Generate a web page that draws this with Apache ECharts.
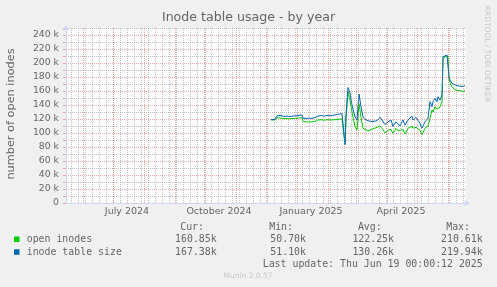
<!DOCTYPE html>
<html><head><meta charset="utf-8">
<style>html,body{margin:0;padding:0;background:#F0F0F0}#c{width:497px;height:287px}</style>
<script src="https://cdn.jsdelivr.net/npm/echarts@6/dist/echarts.min.js"></script>
</head><body><div id="c"></div>
<script>
// ---- data (values in thousands) ----
const dates = ['2024-12-06','2024-12-08','2024-12-10','2024-12-12','2024-12-14','2024-12-16','2024-12-19','2024-12-22','2024-12-25','2024-12-28','2024-12-31',
 '2025-01-03','2025-01-06','2025-01-07','2025-01-10','2025-01-13','2025-01-16','2025-01-19','2025-01-22','2025-01-25','2025-01-28','2025-01-31',
 '2025-02-03','2025-02-06','2025-02-09','2025-02-12','2025-02-15','2025-02-17','2025-02-18','2025-02-19','2025-02-21','2025-02-23','2025-02-25','2025-02-26','2025-02-28',
 '2025-03-02','2025-03-04','2025-03-06','2025-03-08','2025-03-10','2025-03-13','2025-03-16','2025-03-19','2025-03-22','2025-03-25','2025-03-27','2025-03-30','2025-03-31',
 '2025-04-02','2025-04-05','2025-04-07','2025-04-10','2025-04-12','2025-04-14','2025-04-17','2025-04-19','2025-04-22','2025-04-24','2025-04-26','2025-04-27','2025-04-30',
 '2025-05-02','2025-05-04','2025-05-06','2025-05-07','2025-05-09','2025-05-12','2025-05-14','2025-05-16','2025-05-17','2025-05-19','2025-05-21','2025-05-22','2025-05-24','2025-05-26','2025-05-27','2025-05-29','2025-05-31',
 '2025-06-01','2025-06-02','2025-06-03','2025-06-05','2025-06-08','2025-06-10','2025-06-12','2025-06-14','2025-06-16','2025-06-18'];
const openInodes = [118.5,118.5,118.8,121.9,121,121.3,120.4,120.6,120.3,120.8,121,
 121.5,121.8,116.5,116,115.6,116,116.8,118.6,119,118.2,119,
 118.6,118.8,119.2,119.6,120,120.2,85,119,159,147,130,128,109,
 104,142,123,106.7,104,102.8,105,106.5,108,110,106.7,100,98.6,
 104,105,99.5,106.7,103,100.5,105,98.6,106.7,108,110,107,108,
 106,104,97.5,98.5,106.7,110,121,133,130,137.6,134,135,137,145,205,209,208,
 209.5,175.7,172,166,161.4,159,160.5,158.5,159.5,160.9];
const tableSize = [119,119,119.5,124.7,124,125,123.6,124.2,123.5,124.3,124.6,
 125.2,125.7,121,120.8,121.2,120.9,122,124.2,125,124,125.2,
 124.5,125.3,126.2,127,127.8,128,83,126,165,157,140,142.4,123,
 118.6,155.7,137.6,123,119.5,117.6,116.5,116.7,117.6,122.4,118.6,112,110,
 116,118.6,109.5,116,113,110,118.6,111.4,118.6,120,124,118.6,122.4,
 118,113.8,107,108.5,116,121,144.7,137.6,144.7,149.5,144.7,151.9,147,154.5,209,211,211.4,
 213,180,175.7,171,168.6,166,167,166,166.5,167.4];
const seriesNames = ['open inodes', 'inode table size'];
const curValues = ['160.85k', '167.38k'];
const minValues = ['50.70k', '51.10k'];
const avgValues = ['122.25k', '130.26k'];
const maxValues = ['210.61k', '219.94k'];
const monthStarts = ['2024-06-01','2024-07-01','2024-08-01','2024-09-01','2024-10-01','2024-11-01','2024-12-01',
 '2025-01-01','2025-02-01','2025-03-01','2025-04-01','2025-05-01','2025-06-01'];
const xLabelDates = ['2024-07-15','2024-10-15','2025-01-15','2025-04-15'];
const xLabels = ['July 2024','October 2024','January 2025','April 2025'];
const rangeStart = '2024-05-15', rangeEnd = '2025-06-19';
const lastUpdate = 'Last update: Thu Jun 19 00:00:12 2025';

// ---- helpers ----
const ts = s => Date.parse(s + 'T00:00:00Z');
const DAY = 86400000;
const MAJOR = 'rgba(222,79,79,0.5)', MINOR = 'rgba(143,143,143,0.55)';
const FONT = '#666666';
const mono = 'DejaVu Sans Mono';
const sans = 'DejaVu Sans';

const gridLines = [];
for (let t = ts('2024-05-20'); t < ts(rangeEnd); t += 7 * DAY) {
  gridLines.push({ xAxis: t, lineStyle: { color: MINOR, type: [1, 1], width: 1 } });
}
monthStarts.forEach(s => gridLines.push({ xAxis: ts(s), lineStyle: { color: MAJOR, type: [1, 1], width: 1 } }));

const labelTs = xLabelDates.map(ts);
const colors = ['#00CC00', '#0066B3'];

const graphics = [
  { type: 'text', left: 'center', top: 11, style: { text: 'Inode table usage - by year', fill: FONT, font: '12.6px ' + sans } },
  { type: 'text', x: 11, y: 114, rotation: Math.PI / 2, style: { text: 'number of open inodes', fill: FONT, font: '11.3px ' + sans, align: 'center', verticalAlign: 'middle' } },
  { type: 'text', x: 487, y: 54, rotation: -Math.PI / 2, style: { text: 'RRDTOOL / TOBI OETIKER', fill: '#c8c8c8', font: '7.5px ' + sans, align: 'center', verticalAlign: 'middle' } },
  { type: 'text', x: 248, y: 276, style: { text: 'Munin 2.0.57', fill: '#c8c8c8', font: '7.5px ' + sans, align: 'center', verticalAlign: 'middle' } }
];
const hdr = [['Cur:', 204], ['Min:', 293], ['Avg:', 381.7], ['Max:', 470]];
hdr.forEach(h => graphics.push({ type: 'text', x: h[1], y: 227.3, style: { text: h[0], fill: FONT, font: '9.9px ' + mono, align: 'right', verticalAlign: 'middle' } }));
const cols = [[curValues, 216.7], [minValues, 306], [avgValues, 394], [maxValues, 482.7]];
[239.5, 252.3].forEach((y, i) => {
  graphics.push({ type: 'rect', shape: { x: 14, y: y - 3, width: 5.5, height: 5.5 }, style: { fill: colors[i] } });
  graphics.push({ type: 'text', x: 26.7, y: y, style: { text: seriesNames[i], fill: FONT, font: '9.9px ' + mono, align: 'left', verticalAlign: 'middle' } });
  cols.forEach(c => graphics.push({ type: 'text', x: c[1], y: y, style: { text: c[0][i], fill: FONT, font: '9.9px ' + mono, align: 'right', verticalAlign: 'middle' } }));
});
graphics.push({ type: 'text', x: 482.7, y: 264, style: { text: lastUpdate, fill: FONT, font: '9.9px ' + mono, align: 'right', verticalAlign: 'middle' } });

const chart = echarts.init(document.getElementById('c'), null, { renderer: 'canvas' });
chart.setOption({
  backgroundColor: '#F0F0F0',
  animation: false,
  useUTC: true,
  grid: { left: 66, top: 28, width: 400, height: 175, show: true, backgroundColor: '#FFFFFF', borderWidth: 0 },
  xAxis: [
    { type: 'time', min: ts(rangeStart), max: ts(rangeEnd),
      axisLine: { show: true, lineStyle: { color: '#CFD6F8' }, symbol: ['none', 'arrow'], symbolSize: [5, 6], symbolOffset: [0, 4] },
      axisTick: { show: false }, axisLabel: { show: false }, splitLine: { show: false } },
    { type: 'value', min: ts(rangeStart), max: ts(rangeEnd), position: 'bottom',
      axisLine: { show: false }, axisTick: { show: false }, splitLine: { show: false },
      axisLabel: { show: true, customValues: labelTs, margin: 4, color: FONT, fontSize: 9.5, fontFamily: sans,
        formatter: v => { const i = labelTs.findIndex(t => Math.abs(t - v) < DAY); return i >= 0 ? xLabels[i] : ''; } } }
  ],
  yAxis: {
    type: 'value', min: 0, max: 250, interval: 10,
    axisLine: { show: true, lineStyle: { color: '#CFD6F8' }, symbol: ['none', 'arrow'], symbolSize: [5, 6], symbolOffset: [0, 3] },
    axisTick: { show: true, length: 3, lineStyle: { color: 'rgba(222,79,79,0.45)' } },
    axisLabel: { color: FONT, fontSize: 9.3, fontFamily: sans, margin: 7,
      formatter: v => (v % 20 === 0 && v <= 240) ? (v === 0 ? '0' : v + ' k') : '' },
    splitLine: { show: true, lineStyle: { color: [MAJOR, MINOR], type: [1, 1], width: 1 } }
  },
  series: [
    { type: 'line', data: [], z: 1, silent: true,
      markLine: { silent: true, symbol: ['none', 'none'], label: { show: false }, animation: false, data: gridLines } },
    { name: seriesNames[0], type: 'line', z: 3, symbol: 'none', silent: true,
      lineStyle: { color: colors[0], width: 1 }, data: dates.map((d, i) => [ts(d), openInodes[i]]) },
    { name: seriesNames[1], type: 'line', z: 4, symbol: 'none', silent: true,
      lineStyle: { color: colors[1], width: 1 }, data: dates.map((d, i) => [ts(d), tableSize[i]]) }
  ],
  graphic: graphics
});
</script>
</body></html>
